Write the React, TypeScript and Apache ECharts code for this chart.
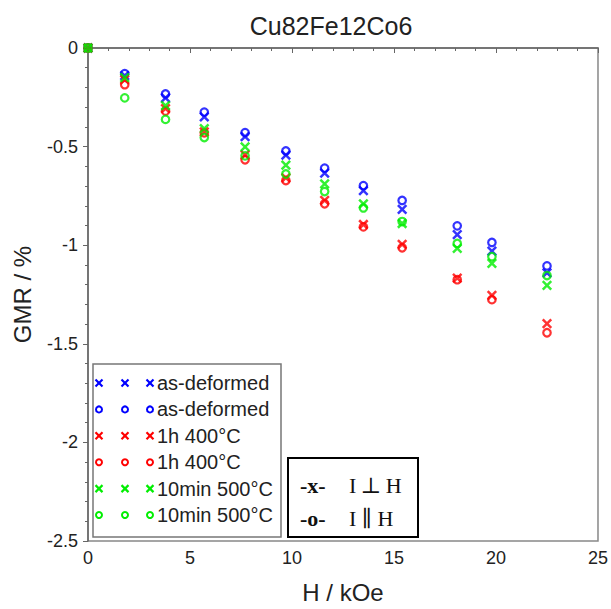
import React, { useEffect, useRef } from "react";
import * as echarts from "echarts";

const H = [0, 1.8, 3.8, 5.7, 7.7, 9.7, 11.6, 13.5, 15.4, 18.1, 19.8, 22.5];
const asDefPerp = [0, -0.14, -0.253, -0.349, -0.449, -0.543, -0.634, -0.723, -0.818, -0.946, -1.03, -1.14];
const asDefPar = [0, -0.13, -0.233, -0.325, -0.429, -0.522, -0.609, -0.698, -0.773, -0.902, -0.986, -1.105];
const h1Perp = [0, -0.16, -0.307, -0.425, -0.542, -0.659, -0.773, -0.895, -0.996, -1.167, -1.254, -1.398];
const h1Par = [0, -0.186, -0.32, -0.43, -0.567, -0.672, -0.79, -0.907, -1.013, -1.175, -1.276, -1.444];
const m10Perp = [0, -0.15, -0.292, -0.409, -0.501, -0.594, -0.689, -0.79, -0.89, -1.016, -1.092, -1.204];
const m10Par = [0, -0.253, -0.362, -0.454, -0.547, -0.639, -0.728, -0.811, -0.88, -0.991, -1.058, -1.154];

const seriesDefs = [
  { name: "as-deformed", mark: "x", color: "#0000ff", values: asDefPerp },
  { name: "as-deformed", mark: "o", color: "#0000ff", values: asDefPar },
  { name: "1h 400°C", mark: "x", color: "#ff0000", values: h1Perp },
  { name: "1h 400°C", mark: "o", color: "#ff0000", values: h1Par },
  { name: "10min 500°C", mark: "x", color: "#00ee00", values: m10Perp },
  { name: "10min 500°C", mark: "o", color: "#00ee00", values: m10Par },
];

const X_PATH = "path://M0 0 L10 10 M10 0 L0 10";
const FONT = "'Liberation Sans', Arial, sans-serif";
const SERIF = "'Liberation Serif', 'DejaVu Serif', serif";

export default function App() {
  const ref = useRef<HTMLDivElement>(null);
  useEffect(() => {
    const chart = echarts.init(ref.current!, null, { renderer: "svg" });

    const series = seriesDefs.map((s) => ({
      type: "scatter",
      name: s.name + (s.mark === "x" ? " (perp)" : " (par)"),
      data: H.map((h, i) => [h, s.values[i]]),
      symbol: s.mark === "x" ? X_PATH : "circle",
      symbolSize: s.mark === "x" ? 8.5 : 7.5,
      itemStyle:
        s.mark === "x"
          ? { color: s.color, borderColor: s.color, borderWidth: 2.5 }
          : { color: "rgba(0,0,0,0)", borderColor: s.color, borderWidth: 2.2 },
      emphasis: { disabled: true },
    }));

    const legendChildren: any[] = [
      {
        type: "rect",
        shape: { x: 93, y: 364, width: 188, height: 173 },
        style: { fill: "#fff", stroke: "#777", lineWidth: 1.5 },
      },
    ];
    const iconXs = [99, 125, 150];
    seriesDefs.forEach((s, k) => {
      const cy = 383 + k * 26.4;
      iconXs.forEach((cx) => {
        if (s.mark === "x") {
          legendChildren.push(
            { type: "line", shape: { x1: cx - 3.5, y1: cy - 3.5, x2: cx + 3.5, y2: cy + 3.5 }, style: { stroke: s.color, lineWidth: 2.2 } },
            { type: "line", shape: { x1: cx + 3.5, y1: cy - 3.5, x2: cx - 3.5, y2: cy + 3.5 }, style: { stroke: s.color, lineWidth: 2.2 } }
          );
        } else {
          legendChildren.push({
            type: "circle",
            shape: { cx, cy, r: 3 },
            style: { fill: "none", stroke: s.color, lineWidth: 2 },
          });
        }
      });
      legendChildren.push({
        type: "text",
        x: 157,
        y: cy,
        style: {
          text: s.name,
          fill: "#222",
          font: `20px ${FONT}`,
          verticalAlign: "middle",
        },
      });
    });

    const boldStyle = { font: `bold 22px ${SERIF}`, fill: "#111", verticalAlign: "middle" };
    const normStyle = { font: `22px ${SERIF}`, fill: "#111", verticalAlign: "middle" };

    const option: any = {
      animation: false,
      backgroundColor: "#fff",
      title: {
        text: "Cu82Fe12Co6",
        left: 326,
        textAlign: "center",
        top: 8,
        textStyle: { fontFamily: FONT, fontSize: 25, fontWeight: "normal", color: "#222" },
      },
      grid: {
        left: 88,
        right: 13,
        top: 48,
        bottom: 64,
        show: true,
        borderColor: "#888",
        borderWidth: 1.5,
        backgroundColor: "rgba(0,0,0,0)",
      },
      xAxis: {
        type: "value",
        min: 0,
        max: 25,
        interval: 5,
        name: "H / kOe",
        nameLocation: "middle",
        nameGap: 39,
        nameTextStyle: { fontFamily: FONT, fontSize: 24, color: "#222" },
        axisLine: { show: true, lineStyle: { color: "#666", width: 1.5 } },
        axisTick: { show: true, length: 5, lineStyle: { color: "#666" } },
        minorTick: { show: true, splitNumber: 5, length: 3, lineStyle: { color: "#666" } },
        splitLine: { show: false },
        axisLabel: { fontFamily: FONT, fontSize: 18, color: "#222", margin: 8 },
      },
      yAxis: {
        type: "value",
        min: -2.5,
        max: 0,
        interval: 0.5,
        name: "GMR / %",
        nameLocation: "middle",
        nameGap: 54,
        nameTextStyle: { fontFamily: FONT, fontSize: 24, color: "#222" },
        axisLine: { show: true, lineStyle: { color: "#666", width: 1.5 } },
        axisTick: { show: true, length: 5, lineStyle: { color: "#666" } },
        minorTick: { show: true, splitNumber: 5, length: 3, lineStyle: { color: "#666" } },
        splitLine: { show: false },
        axisLabel: { fontFamily: FONT, fontSize: 18, color: "#222", margin: 10 },
      },
      series,
      graphic: [
        { type: "group", children: legendChildren },
        {
          type: "group",
          children: [
            {
              type: "rect",
              shape: { x: 288, y: 458, width: 130, height: 79 },
              style: { fill: "#fff", stroke: "#000", lineWidth: 2 },
            },
            { type: "text", x: 300, y: 485, style: { ...boldStyle, text: "-x-" } },
            { type: "text", x: 349, y: 485, style: { ...normStyle, text: "I\u2009⊥\u2009H" } },
            { type: "text", x: 300, y: 518, style: { ...boldStyle, text: "-o-" } },
            { type: "text", x: 349, y: 518, style: { ...normStyle, text: "I ∥ H" } },
          ],
        },
      ],
    };
    chart.setOption(option);
    return () => chart.dispose();
  }, []);
  return (
    <div
      ref={ref}
      style={{ position: "absolute", left: 0, top: 0, width: 611, height: 609 }}
    />
  );
}
